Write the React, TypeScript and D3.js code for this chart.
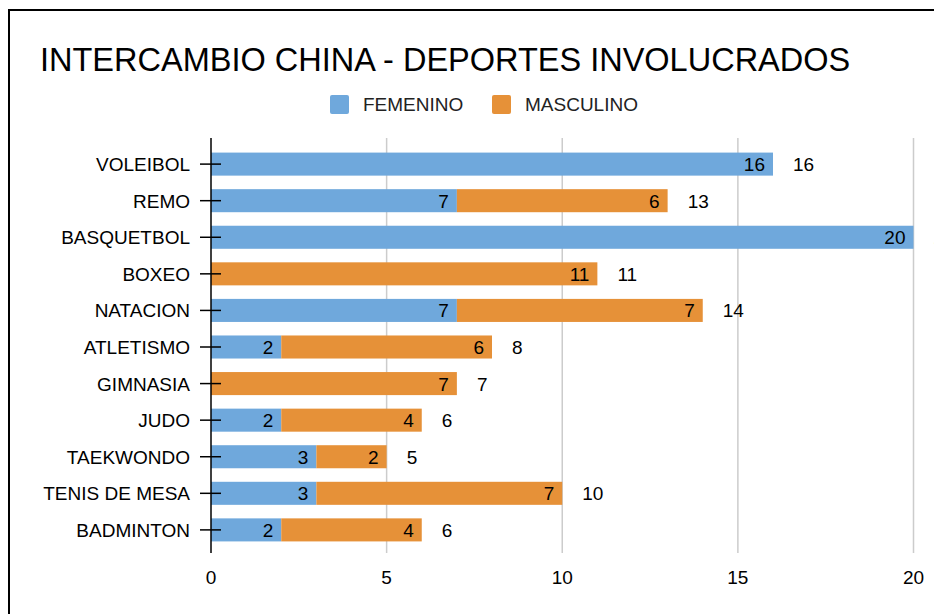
import React from "react";
import * as d3 from "d3";

const categories = ["VOLEIBOL", "REMO", "BASQUETBOL", "BOXEO", "NATACION", "ATLETISMO", "GIMNASIA", "JUDO", "TAEKWONDO", "TENIS DE MESA", "BADMINTON"];
const femenino = [16, 7, 20, 0, 7, 2, 0, 2, 3, 3, 2];
const masculino = [0, 6, 0, 11, 7, 6, 7, 4, 2, 7, 4];
const xTicks = [0, 5, 10, 15, 20];
const seriesNames = ["FEMENINO", "MASCULINO"];
const colors = ["#6fa8dc", "#e69138"];

const FONT = "'Liberation Sans', Arial, sans-serif";

export default function App() {
  const W = 934, H = 614;
  const x = d3.scaleLinear().domain([0, 20]).range([211, 913.5]);
  const y = d3.scaleBand().domain(categories).range([146, 548]).paddingInner(0.37).paddingOuter(0.18);
  const bh = y.bandwidth();
  const series = [femenino, masculino];

  return (
    <svg width={W} height={H} style={{ position: "absolute", left: 0, top: 0, background: "#fff" }} fontFamily={FONT}>
      <rect x={9} y={10} width={W} height={H} fill="#fff" stroke="#000" strokeWidth={2} />
      <text x={40} y={71} fontSize={32.5} fill="#000">INTERCAMBIO CHINA - DEPORTES INVOLUCRADOS</text>
      {seriesNames.map((n, i) => {
        const lx = [330, 492][i];
        return (
          <g key={n}>
            <rect x={lx} y={95} width={19} height={19} rx={2} fill={colors[i]} />
            <text x={lx + 33} y={111} fontSize={19} fill="#222">{n}</text>
          </g>
        );
      })}
      {xTicks.map((t) => (
        <g key={t}>
          {t > 0 && <line x1={x(t)} x2={x(t)} y1={138} y2={553} stroke="#cccccc" strokeWidth={1.5} />}
          <text x={x(t)} y={584} fontSize={19} textAnchor="middle" fill="#000">{t}</text>
        </g>
      ))}
      {categories.map((c, i) => {
        const yc = y(c)! + bh / 2;
        const total = femenino[i] + masculino[i];
        let acc = 0;
        return (
          <g key={c}>
            {series.map((s, si) => {
              const v = s[i];
              if (!v) return null;
              const x0 = x(acc);
              acc += v;
              const x1 = x(acc);
              return (
                <g key={si}>
                  <rect x={x0} y={y(c)} width={x1 - x0} height={bh} fill={colors[si]} />
                  <text x={x1 - 8} y={yc + 7} fontSize={19} textAnchor="end" fill="#000">{v}</text>
                </g>
              );
            })}
            <text x={x(total) + 20} y={yc + 7} fontSize={19} fill="#000">{total}</text>
            <text x={190} y={yc + 7} fontSize={19} textAnchor="end" fill="#000">{c}</text>
            <line x1={200} x2={221} y1={yc} y2={yc} stroke="#000" strokeWidth={1.5} />
          </g>
        );
      })}
      <line x1={211} x2={211} y1={138} y2={553} stroke="#000" strokeWidth={1.5} />
    </svg>
  );
}
